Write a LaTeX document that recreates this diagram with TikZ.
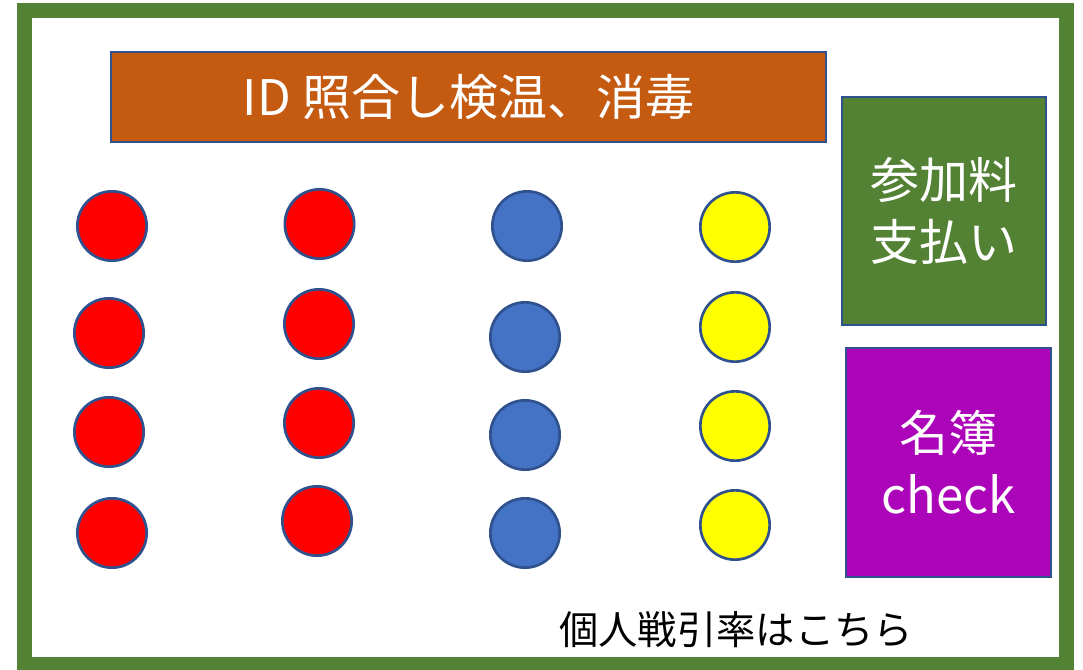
\documentclass[tikz,border=0pt]{standalone}
\usepackage{fontspec}
\setmainfont{Noto Sans CJK JP}
\usepackage{tikz}

\definecolor{framegreen}{HTML}{548235}
\definecolor{bannerorange}{HTML}{C55A11}
\definecolor{listpurple}{HTML}{AC04B8}
\definecolor{edgeblue}{HTML}{2F528F}
\definecolor{seatblue}{HTML}{4472C4}
\definecolor{seatyellow}{HTML}{FFFF00}

\tikzset{
  seat/.style={circle, draw=edgeblue, line width=2pt, minimum size=52pt, inner sep=0pt},
  desk/.style={draw=edgeblue, line width=1.2pt, text=white, align=center, inner sep=0pt,
               font=\fontsize{36.75}{46.5}\selectfont},
}

\begin{document}
\begin{tikzpicture}[x=0.75pt,y=-0.75pt]
        \useasboundingbox (0,0) rectangle (1083,669);

        % ---- outer frame --------------------------------
        \draw[framegreen, line width=11.25pt] (24,10.5) rectangle (1066,664.5);

        % ---- desks -------------------------------------
        \node[desk, fill=bannerorange, minimum width=536.25pt, minimum height=67.5pt]
          (check) at (468.5,97) {ID 照合し検温、消毒};
        \node[desk, fill=framegreen, minimum width=153pt, minimum height=171pt]
          (pay) at (944,211) {参加料\\支払い};
        \node[desk, fill=listpurple, minimum width=153.75pt, minimum height=171.75pt]
          (roster) at (948.5,462.5) {名簿\\check};

        % ---- red seats ---------------------------------
        \node[seat, fill=red] (red1) at (112,226) {};
        \node[seat, fill=red] (red2) at (109,333) {};
        \node[seat, fill=red] (red3) at (109,432) {};
        \node[seat, fill=red] (red4) at (112,533) {};
        \node[seat, fill=red] (red5) at (319.5,224) {};
        \node[seat, fill=red] (red6) at (319,324) {};
        \node[seat, fill=red] (red7) at (319,423) {};
        \node[seat, fill=red] (red8) at (317,521) {};

        % ---- blue seats --------------------------------
        \node[seat, fill=seatblue] (blue1) at (527,226) {};
        \node[seat, fill=seatblue] (blue2) at (525,337) {};
        \node[seat, fill=seatblue] (blue3) at (525,435) {};
        \node[seat, fill=seatblue] (blue4) at (525,533) {};

        % ---- yellow seats ------------------------------
        \node[seat, fill=seatyellow] (yellow1) at (735,227) {};
        \node[seat, fill=seatyellow] (yellow2) at (735,327) {};
        \node[seat, fill=seatyellow] (yellow3) at (735,426) {};
        \node[seat, fill=seatyellow] (yellow4) at (735,525) {};

        % ---- label below the seats ---------------------
        \node[font=\fontsize{29.5}{34}\selectfont, inner sep=0pt] (lead) at (736,630) {個人戦引率はこちら};
    \end{tikzpicture}
\end{document}
